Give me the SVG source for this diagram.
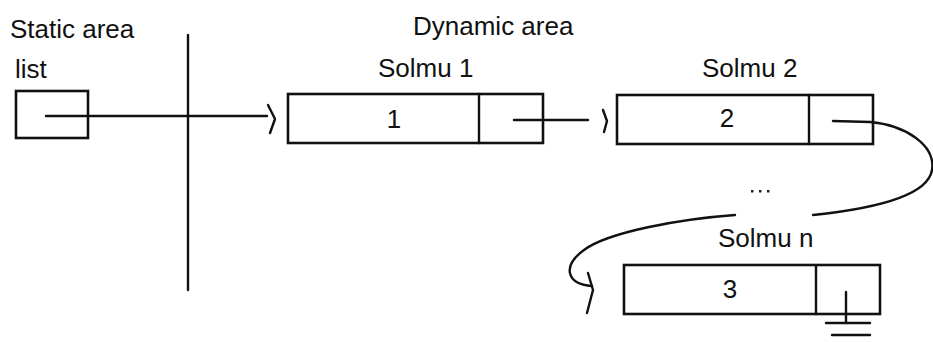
<svg xmlns="http://www.w3.org/2000/svg" width="933" height="342" viewBox="0 0 933 342">
  <style>
    .lbl { font-family: "Liberation Sans", Arial, sans-serif; font-size: 26px; fill: #111; }
    .box { fill: #fff; stroke: #111; stroke-width: 2.6; }
    .wire { fill: none; stroke: #111; stroke-width: 2.4; stroke-linecap: round; }
    .head { fill: none; stroke: #111; stroke-width: 2.4; stroke-linecap: round; stroke-linejoin: round; }
    .dot { fill: #222; }
  </style>
  <rect width="933" height="342" fill="#fff"/>

  <!-- area headings -->
  <g id="static-area">
    <text class="lbl" x="10" y="38">Static area</text>
  </g>
  <g id="dynamic-area">
    <text class="lbl" x="413" y="35">Dynamic area</text>
  </g>

  <!-- boundary between static and dynamic memory -->
  <g id="boundary">
    <line class="wire" x1="188" y1="35" x2="188" y2="290" stroke-width="2.6"/>
  </g>

  <!-- static pointer variable -->
  <g id="list">
    <text class="lbl" x="15" y="78">list</text>
    <rect class="box" x="16" y="91" width="72" height="47"/>
  </g>

  <!-- dynamic nodes -->
  <g id="solmu1">
    <text class="lbl" x="378" y="77">Solmu 1</text>
    <rect class="box" x="288" y="94" width="255" height="49"/>
    <line class="wire" x1="479" y1="94" x2="479" y2="143" stroke-width="2.6"/>
    <text class="lbl" x="394" y="128" text-anchor="middle">1</text>
  </g>

  <g id="solmu2">
    <text class="lbl" x="702" y="77">Solmu 2</text>
    <rect class="box" x="617" y="95" width="256" height="49"/>
    <line class="wire" x1="809" y1="95" x2="809" y2="144" stroke-width="2.6"/>
    <text class="lbl" x="727" y="127" text-anchor="middle">2</text>
  </g>

  <g id="ellipsis">
    <rect class="dot" x="751" y="190" width="2.5" height="2.5"/>
    <rect class="dot" x="759" y="190" width="2.5" height="2.5"/>
    <rect class="dot" x="767" y="190" width="2.5" height="2.5"/>
  </g>

  <g id="solmun">
    <text class="lbl" x="718" y="247">Solmu n</text>
    <rect class="box" x="624" y="265" width="256" height="49"/>
    <line class="wire" x1="816" y1="265" x2="816" y2="314" stroke-width="2.6"/>
    <text class="lbl" x="730" y="298" text-anchor="middle">3</text>
    <!-- null pointer (ground symbol) -->
    <line class="wire" x1="846" y1="292" x2="846" y2="323"/>
    <line class="wire" x1="826" y1="323" x2="870" y2="323"/>
    <line class="wire" x1="832" y1="335" x2="870" y2="335"/>
  </g>

  <!-- pointers -->
  <g id="connectors">
    <line class="wire" x1="46" y1="116" x2="267" y2="116"/>
    <path class="head" d="M268,105 L275,119 L270,133"/>

    <line class="wire" x1="514" y1="120" x2="588" y2="120"/>
    <path class="head" d="M603,110 L607,121 L604,132"/>

    <path class="wire" d="M833,121 L870,122 C905,125 936,145 932,170 C928,195 880,208 813,215"/>
    <path class="wire" d="M735,215 C680,219 608,232 584,250 C562,266 566,284 592,286"/>
    <path class="head" d="M588,273 L593,290 L587,313"/>
  </g>
</svg>
